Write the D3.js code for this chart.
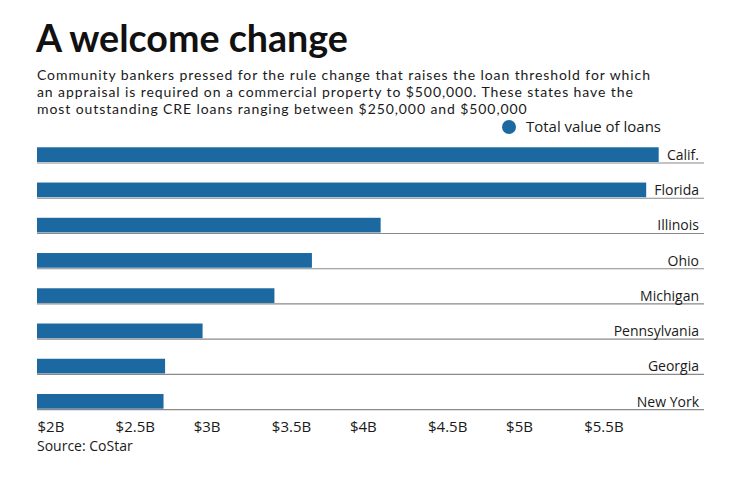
<!DOCTYPE html>
<html>
<head>
<meta charset="utf-8">
<script src="https://cdn.jsdelivr.net/npm/d3@7/dist/d3.min.js"></script>
<style>
  html, body { margin: 0; padding: 0; background: #fff; }
  svg { display: block; font-family: "Open Sans", "Noto Sans", sans-serif; }
</style>
</head>
<body>
<svg id="chart" width="740" height="482"></svg>
<script>
const states = ["Calif.", "Florida", "Illinois", "Ohio", "Michigan", "Pennsylvania", "Georgia", "New York"];
const loanValues = [5.98, 5.90, 4.20, 3.76, 3.52, 3.06, 2.82, 2.81]; // billions of dollars
const tickValues = [2, 2.5, 3, 3.5, 4, 4.5, 5, 5.5];
const tickLabels = ["$2B", "$2.5B", "$3B", "$3.5B", "$4B", "$4.5B", "$5B", "$5.5B"];
const titleText = "A welcome change";
const subtitleLines = [
  "Community bankers pressed for the rule change that raises the loan threshold for which",
  "an appraisal is required on a commercial property to $500,000. These states have the",
  "most outstanding CRE loans ranging between $250,000 and $500,000"
];
const legendLabel = "Total value of loans";
const sourceText = "Source: CoStar";

const svg = d3.select("#chart");
const barColor = "#1c69a1";
const textColor = "#1a1a1a";

function fitWidth(sel, target) {
  const w = sel.node().getComputedTextLength();
  const fs = parseFloat(sel.attr("font-size"));
  sel.attr("font-size", (fs * target / w).toFixed(2));
  return fs * target / w;
}

// Title
const title = svg.append("text").attr("x", 36).attr("y", 52)
  .attr("font-size", 31).attr("font-weight", 700).attr("fill", "#111")
  .attr("font-family", "Lato, 'Open Sans', sans-serif")
  .text(titleText);
fitWidth(title, 312);

// Subtitle: Lato 14px, letter-spacing tuned so line 1 spans the same width as the reference
const subY = [80, 97, 114];
let spacing = 0;
subtitleLines.forEach((t, i) => {
  const s = svg.append("text").attr("x", 37).attr("y", subY[i])
    .attr("font-size", 14).attr("font-family", "Lato, sans-serif")
    .attr("fill", textColor).text(t);
  if (i === 0) {
    const w = s.node().getComputedTextLength();
    spacing = (613 - w) / (t.length - 1);
  }
  s.attr("letter-spacing", spacing.toFixed(3));
});

// Legend
svg.append("circle").attr("cx", 509).attr("cy", 127).attr("r", 7).attr("fill", barColor);
const lg = svg.append("text").attr("x", 526).attr("y", 132).attr("font-size", 14)
  .attr("fill", textColor).text(legendLabel);
fitWidth(lg, 135);

// Scales
const x = d3.scaleLinear().domain([2, 6.27]).range([37, 704]);
const y = d3.scaleBand().domain(states).range([147.3, 408.7]).paddingInner(0.583).paddingOuter(0);

const rows = svg.append("g").selectAll("g").data(states).join("g");

rows.append("line")
  .attr("x1", x(2)).attr("x2", x.range()[1])
  .attr("y1", d => y(d) + y.bandwidth() + 1)
  .attr("y2", d => y(d) + y.bandwidth() + 1)
  .attr("stroke", "#8a8a8a").attr("stroke-width", 1.2);

rows.append("rect")
  .attr("x", x(2))
  .attr("y", d => y(d))
  .attr("width", (d, i) => x(loanValues[i]) - x(2))
  .attr("height", y.bandwidth())
  .attr("fill", barColor);

rows.append("text")
  .attr("x", 699)
  .attr("y", d => y(d) + y.bandwidth() - 2)
  .attr("text-anchor", "end")
  .attr("font-size", 14)
  .attr("fill", textColor)
  .text(d => d);

// X axis
const axis = d3.axisBottom(x).tickValues(tickValues).tickSize(0)
  .tickFormat((d, i) => tickLabels[i]);
const ag = svg.append("g").attr("transform", "translate(0,418)").call(axis);
ag.select(".domain").remove();
ag.selectAll("text")
  .attr("y", 0).attr("dy", "0.95em")
  .attr("text-anchor", "start")
  .attr("font-size", 15)
  .attr("font-family", "'Open Sans', sans-serif")
  .attr("fill", textColor);

// Source
svg.append("text").attr("x", 37).attr("y", 451).attr("font-size", 14)
  .attr("fill", textColor).text(sourceText);
</script>
</body>
</html>
